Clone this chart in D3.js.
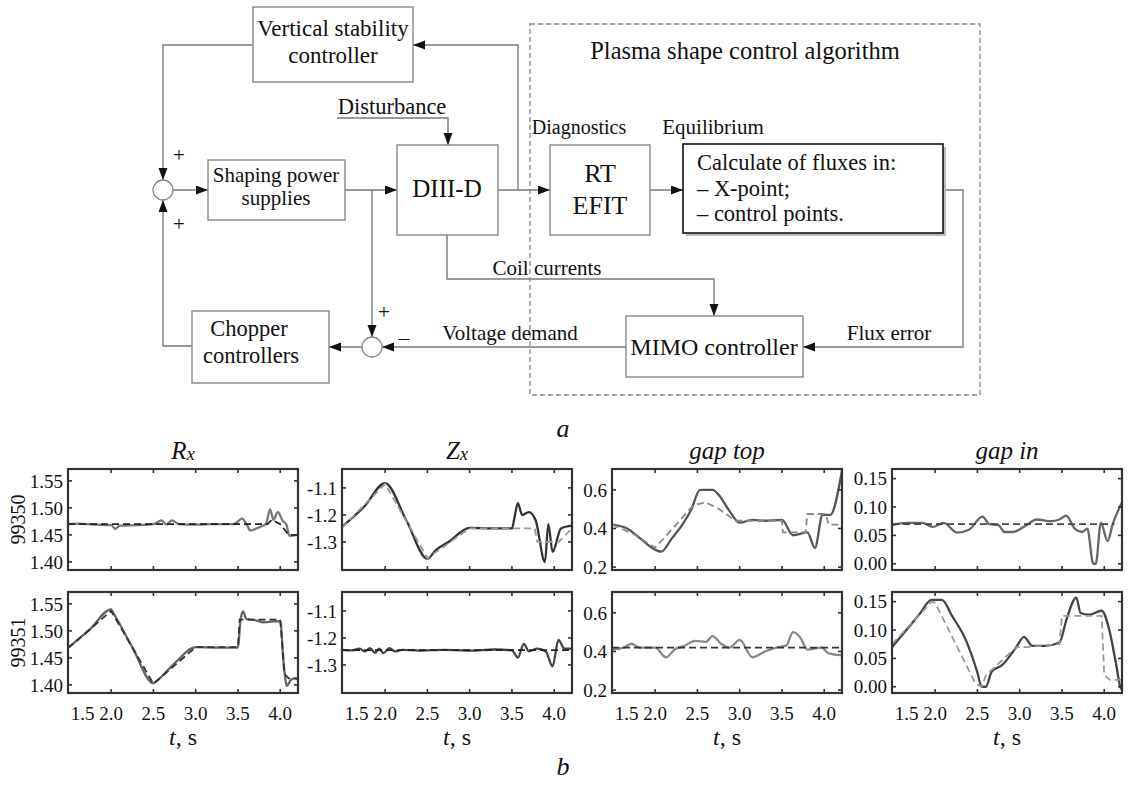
<!DOCTYPE html>
<html><head><meta charset="utf-8">
<script src="https://cdn.jsdelivr.net/npm/d3@7"></script>
<style>
html,body{margin:0;padding:0;background:#fff;}
svg{display:block;}
text{font-family:"Liberation Serif","DejaVu Serif",serif;fill:#111;}
</style></head>
<body>
<svg id="chart" width="1136" height="785"></svg>
<script>
// ---------------- DATA ----------------
const panelTitles = ["R", "Z", "gap top", "gap in"];
const shotLabels = ["99350", "99351"];
const xTickValues = [1.5, 2.0, 2.5, 3.0, 3.5, 4.0];
const xDomain = [1.49, 4.21];
const yDomains = [[1.385, 1.572], [-1.404, -1.03], [0.185, 0.708], [-0.011, 0.167]];
const yTickValues = [[1.40, 1.45, 1.50, 1.55], [-1.3, -1.2, -1.1], [0.2, 0.4, 0.6], [0.00, 0.05, 0.10, 0.15]];
const yTickFormats = [".2f", ".1f", ".1f", ".2f"];

// Rx, shot 99350
const rxA_ref = [[1.49,1.47],[3.85,1.47],[3.9,1.478],[4.0,1.47],[4.1,1.45],[4.21,1.45]];
const rxA_meas = [[1.49,1.47],[1.6,1.471],[1.8,1.469],[2.0,1.468],[2.05,1.461],[2.1,1.467],[2.3,1.468],[2.5,1.47],[2.6,1.477],[2.65,1.469],[2.72,1.477],[2.8,1.47],[3.0,1.469],[3.2,1.47],[3.45,1.47],[3.55,1.48],[3.6,1.47],[3.65,1.458],[3.72,1.462],[3.78,1.466],[3.83,1.47],[3.88,1.497],[3.92,1.478],[3.97,1.492],[4.03,1.476],[4.07,1.47],[4.11,1.448],[4.21,1.45]];
// Rx, shot 99351
const rxB_ref = [[1.49,1.468],[2.0,1.537],[2.5,1.402],[3.0,1.47],[3.5,1.47],[3.52,1.521],[4.0,1.521],[4.05,1.42],[4.1,1.412],[4.21,1.412]];
const rxB_meas = [[1.49,1.469],[1.75,1.503],[2.0,1.54],[2.02,1.535],[2.25,1.47],[2.5,1.403],[2.52,1.405],[2.75,1.44],[3.0,1.47],[3.25,1.469],[3.5,1.469],[3.53,1.52],[3.56,1.536],[3.6,1.522],[3.7,1.52],[3.8,1.516],[4.0,1.518],[4.04,1.44],[4.08,1.398],[4.12,1.408],[4.16,1.412],[4.21,1.41]];
// Zx, shot 99350
const zxA_ref = [[1.49,-1.247],[2.0,-1.085],[2.5,-1.36],[3.0,-1.25],[3.5,-1.25],[3.77,-1.25],[3.8,-1.30],[4.05,-1.30],[4.21,-1.25]];
const zxA_meas = [[1.49,-1.244],[1.75,-1.17],[2.0,-1.082],[2.25,-1.22],[2.5,-1.362],[2.6,-1.33],[2.75,-1.3],[3.0,-1.248],[3.25,-1.25],[3.5,-1.25],[3.53,-1.21],[3.57,-1.156],[3.62,-1.20],[3.7,-1.19],[3.78,-1.22],[3.89,-1.374],[3.93,-1.234],[3.98,-1.337],[4.08,-1.25],[4.21,-1.24]];
// Zx, shot 99351
const zxB_ref = [[1.49,-1.245],[4.21,-1.245]];
const zxB_meas = [[1.49,-1.244],[1.6,-1.246],[1.7,-1.24],[1.76,-1.25],[1.82,-1.238],[1.88,-1.255],[1.93,-1.24],[1.98,-1.256],[2.05,-1.238],[2.12,-1.25],[2.2,-1.244],[2.4,-1.247],[2.7,-1.244],[3.0,-1.247],[3.3,-1.243],[3.5,-1.246],[3.57,-1.273],[3.64,-1.222],[3.7,-1.25],[3.8,-1.24],[3.9,-1.25],[3.98,-1.305],[4.05,-1.207],[4.12,-1.24],[4.21,-1.24]];
// gap top, shot 99350
const gtA_ref = [[1.49,0.42],[1.75,0.37],[2.0,0.30],[2.25,0.42],[2.45,0.52],[2.6,0.535],[2.76,0.50],[2.95,0.44],[3.5,0.44],[3.51,0.38],[3.78,0.38],[3.8,0.475],[4.02,0.475],[4.05,0.42],[4.21,0.42]];
const gtA_meas = [[1.49,0.42],[1.67,0.40],[1.82,0.35],[2.0,0.29],[2.07,0.28],[2.2,0.35],[2.33,0.425],[2.43,0.50],[2.53,0.60],[2.68,0.60],[2.76,0.57],[2.88,0.49],[3.0,0.43],[3.15,0.445],[3.3,0.44],[3.5,0.445],[3.63,0.365],[3.8,0.38],[3.89,0.30],[3.98,0.47],[4.07,0.47],[4.21,0.70]];
// gap top, shot 99351
const gtB_ref = [[1.49,0.42],[4.21,0.42]];
const gtB_meas = [[1.49,0.41],[1.63,0.42],[1.72,0.44],[1.82,0.42],[2.0,0.42],[2.13,0.37],[2.23,0.41],[2.35,0.43],[2.47,0.455],[2.6,0.45],[2.68,0.48],[2.78,0.44],[2.88,0.42],[3.0,0.46],[3.15,0.37],[3.3,0.40],[3.43,0.42],[3.55,0.43],[3.63,0.50],[3.72,0.47],[3.8,0.41],[3.97,0.42],[4.05,0.39],[4.21,0.38]];
// gap in, shot 99350
const giA_ref = [[1.49,0.07],[4.12,0.07]];
const giA_meas = [[1.49,0.068],[1.66,0.072],[1.85,0.072],[1.97,0.065],[2.1,0.072],[2.26,0.055],[2.4,0.06],[2.56,0.083],[2.64,0.07],[2.75,0.068],[2.82,0.056],[2.92,0.056],[3.08,0.068],[3.2,0.078],[3.37,0.075],[3.47,0.078],[3.55,0.085],[3.65,0.062],[3.74,0.056],[3.8,0.062],[3.87,0.0],[3.9,0.0],[3.96,0.072],[4.04,0.04],[4.1,0.07],[4.21,0.108]];
// gap in, shot 99351
const giB_ref = [[1.49,0.075],[1.96,0.15],[2.0,0.148],[2.48,0.005],[2.55,0.0],[2.6,0.02],[2.67,0.03],[2.96,0.07],[3.1,0.07],[3.47,0.075],[3.5,0.125],[3.97,0.125],[4.0,0.02],[4.07,0.012],[4.21,0.012]];
const giB_meas = [[1.49,0.07],[1.66,0.10],[1.81,0.127],[1.96,0.153],[2.08,0.153],[2.2,0.125],[2.37,0.08],[2.5,0.025],[2.55,0.0],[2.6,0.0],[2.67,0.027],[2.79,0.038],[2.96,0.07],[3.05,0.088],[3.15,0.072],[3.3,0.072],[3.47,0.078],[3.56,0.122],[3.67,0.157],[3.72,0.13],[3.82,0.127],[3.97,0.134],[4.06,0.10],[4.14,0.04],[4.19,0.0],[4.21,-0.005]];

// ---------------- LAYOUT / STYLE ----------------
const svg = d3.select("#chart");
const colX = [68, 342, 612, 892];
const rowY = [469, 592];
const pw = 230, ph = 101;

const series = [
  [{ref: rxA_ref, meas: rxA_meas, mc: "#777", rc: "#222"}, {ref: rxB_ref, meas: rxB_meas, mc: "#666", rc: "#333"}],
  [{ref: zxA_ref, meas: zxA_meas, mc: "#333", rc: "#999"}, {ref: zxB_ref, meas: zxB_meas, mc: "#444", rc: "#222"}],
  [{ref: gtA_ref, meas: gtA_meas, mc: "#555", rc: "#888"}, {ref: gtB_ref, meas: gtB_meas, mc: "#888", rc: "#333"}],
  [{ref: giA_ref, meas: giA_meas, mc: "#666", rc: "#444"}, {ref: giB_ref, meas: giB_meas, mc: "#444", rc: "#999"}]
];

const defs = svg.append("defs");
defs.append("marker").attr("id", "arr").attr("markerUnits", "userSpaceOnUse")
  .attr("markerWidth", 13).attr("markerHeight", 10).attr("refX", 12).attr("refY", 4.5)
  .attr("orient", "auto").append("path").attr("d", "M0,0L12,4.5L0,9Z").attr("fill", "#111");

// ---------------- PANELS ----------------
for (let c = 0; c < 4; c++) {
  for (let r = 0; r < 2; r++) {
    const x0 = colX[c], y0 = rowY[r];
    const g = svg.append("g").attr("transform", `translate(${x0},${y0})`);
    const x = d3.scaleLinear().domain(xDomain).range([0, pw]);
    const y = d3.scaleLinear().domain(yDomains[c]).range([ph, 0]);
    const cid = `clip${c}${r}`;
    defs.append("clipPath").attr("id", cid).append("rect").attr("width", pw).attr("height", ph);
    const s = series[c][r];
    const lineRef = d3.line().x(d => x(d[0])).y(d => y(d[1]));
    const lineMeas = d3.line().x(d => x(d[0])).y(d => y(d[1])).curve(d3.curveMonotoneX);
    const lg = g.append("g").attr("clip-path", `url(#${cid})`);
    lg.append("path").attr("d", lineMeas(s.meas)).attr("fill", "none")
      .attr("stroke", s.mc).attr("stroke-width", 2.3).attr("stroke-linejoin", "round");
    lg.append("path").attr("d", lineRef(s.ref)).attr("fill", "none")
      .attr("stroke", s.rc).attr("stroke-width", 1.8).attr("stroke-dasharray", "7,4");
    // frame
    g.append("rect").attr("width", pw).attr("height", ph).attr("fill", "none")
      .attr("stroke", "#333").attr("stroke-width", 2.2);
    // inner ticks
    const xt = xTickValues.filter(v => v > 1.6);
    g.selectAll(".xtt").data(xt).join("line").attr("x1", d => x(d)).attr("x2", d => x(d))
      .attr("y1", 0).attr("y2", 4).attr("stroke", "#333").attr("stroke-width", 1.6);
    g.selectAll(".xtb").data(xt).join("line").attr("x1", d => x(d)).attr("x2", d => x(d))
      .attr("y1", ph).attr("y2", ph - 4).attr("stroke", "#333").attr("stroke-width", 1.6);
    g.selectAll(".ytl").data(yTickValues[c]).join("line").attr("x1", 0).attr("x2", 4)
      .attr("y1", d => y(d)).attr("y2", d => y(d)).attr("stroke", "#333").attr("stroke-width", 1.6);
    g.selectAll(".ytr").data(yTickValues[c]).join("line").attr("x1", pw).attr("x2", pw - 4)
      .attr("y1", d => y(d)).attr("y2", d => y(d)).attr("stroke", "#333").attr("stroke-width", 1.6);
    // y labels
    const fmt = d3.format(yTickFormats[c]);
    g.selectAll(".ylab").data(yTickValues[c]).join("text")
      .attr("x", -5).attr("y", d => y(d)).attr("dy", "0.35em").attr("text-anchor", "end")
      .attr("font-size", 19).text(d => fmt(d).replace("−", "-"));
    if (r === 1) {
      g.selectAll(".xlab").data(xTickValues).join("text")
        .attr("x", d => d === 1.5 ? x(d) + 2 : x(d)).attr("y", ph + 27)
        .attr("text-anchor", d => d === 1.5 ? "start" : "middle")
        .attr("font-size", 19).text(d => d3.format(".1f")(d));
      const tl = g.append("text").attr("x", pw / 2).attr("y", ph + 52).attr("text-anchor", "middle").attr("font-size", 24);
      tl.append("tspan").attr("font-style", "italic").text("t");
      tl.append("tspan").text(", s");
    }
    if (r === 0) {
      const tt = g.append("text").attr("x", pw / 2).attr("y", -10).attr("text-anchor", "middle")
        .attr("font-size", 25).attr("font-style", "italic");
      tt.append("tspan").text(panelTitles[c]);
      if (c < 2) tt.append("tspan").attr("font-size", 18).attr("dy", 1).text("x");
    }
  }
}
shotLabels.forEach((s, i) => {
  svg.append("text").attr("transform", `translate(25,${rowY[i] + ph / 2}) rotate(-90)`)
    .attr("text-anchor", "middle").attr("font-size", 20).text(s);
});

// ---------------- BLOCK DIAGRAM ----------------
const dg = svg.append("g");
function box(x, y, w, h, stroke, sw) {
  dg.append("rect").attr("x", x).attr("y", y).attr("width", w).attr("height", h)
    .attr("fill", "#fff").attr("stroke", stroke || "#888").attr("stroke-width", sw || 1.4);
}
function wire(pts, arrow) {
  const p = dg.append("path").attr("d", d3.line()(pts)).attr("fill", "none")
    .attr("stroke", "#7a7a7a").attr("stroke-width", 1.4);
  if (arrow !== false) p.attr("marker-end", "url(#arr)");
}
function label(x, y, t, size, anchor, style) {
  dg.append("text").attr("x", x).attr("y", y).attr("dy", "0.35em").attr("font-size", size)
    .attr("text-anchor", anchor || "middle").attr("font-style", style || "normal").text(t);
}
// dashed algorithm frame
dg.append("rect").attr("x", 530).attr("y", 24).attr("width", 450).attr("height", 371)
  .attr("fill", "none").attr("stroke", "#888").attr("stroke-width", 1.3).attr("stroke-dasharray", "5,3");

// wires
wire([[253,45],[163,45],[163,180]]);
wire([[518,190],[518,45],[413,45]]);
wire([[498,190],[550,190]]);
wire([[337,118],[448,118],[448,145]]);
wire([[173,190],[208,190]]);
wire([[345,190],[397,190]]);
wire([[372,190],[372,337]]);
wire([[362,347],[329,347]]);
wire([[192,346],[163,346],[163,200]]);
wire([[447,235],[447,279],[714,279],[714,316]]);
wire([[626,347],[382,347]]);
wire([[650,190],[683,190]]);
wire([[943,190],[963,190],[963,347],[803,347]]);

// boxes
box(253, 7, 160, 75);
box(208, 160, 137, 60);
box(397, 145, 101, 90);
box(550, 145, 100, 90);
dg.append("rect").attr("x", 686).attr("y", 147).attr("width", 260).attr("height", 89).attr("fill", "#bbb");
box(683, 144, 260, 89, "#111", 1.6);
box(192, 311, 137, 72);
box(626, 316, 177, 61);
// summing junctions
dg.append("circle").attr("cx", 163).attr("cy", 190).attr("r", 10).attr("fill", "#fff").attr("stroke", "#888").attr("stroke-width", 1.3);
dg.append("circle").attr("cx", 372).attr("cy", 347).attr("r", 10).attr("fill", "#fff").attr("stroke", "#888").attr("stroke-width", 1.3);

// texts
label(333, 28, "Vertical stability", 23);
label(333, 55, "controller", 23);
label(392, 106, "Disturbance", 22.5);
label(276, 175, "Shaping power", 21);
label(276, 198, "supplies", 21);
label(447, 188, "DIII-D", 25);
label(745, 50, "Plasma shape control algorithm", 24.5);
label(579, 127, "Diagnostics", 20);
label(713, 127, "Equilibrium", 21);
label(600, 173, "RT", 26);
label(600, 205, "EFIT", 26);
label(697, 162, "Calculate of fluxes in:", 22.5, "start");
label(697, 188, "\u2013 X-point;", 22.5, "start");
label(697, 213, "\u2013 control points.", 22.5, "start");
label(547, 268, "Coil currents", 21);
label(249, 328, "Chopper", 22.5);
label(251, 355, "controllers", 22.5);
label(510, 333, "Voltage demand", 21);
label(714, 347, "MIMO controller", 24);
label(889, 333, "Flux error", 21);
label(179, 155, "+", 21);
label(179, 224, "+", 21);
label(384, 312, "+", 21);
label(404, 338, "\u2013", 21);
label(563, 428, "a", 26, "middle", "italic");
label(563, 766, "b", 26, "middle", "italic");
</script>
</body></html>
